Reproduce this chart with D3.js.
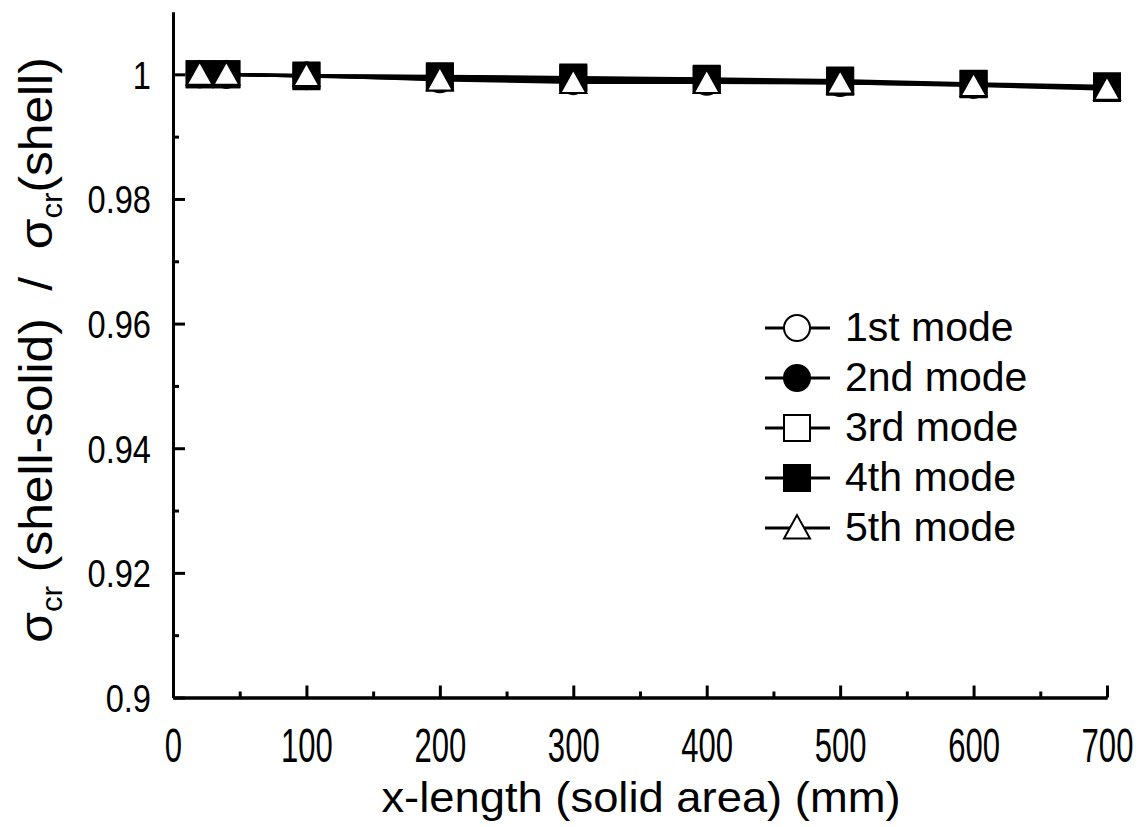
<!DOCTYPE html>
<html>
<head>
<meta charset="utf-8">
<script src="https://cdn.jsdelivr.net/npm/d3@7/dist/d3.min.js"></script>
<style>
  html, body { margin: 0; padding: 0; background: #fff; }
  svg { display: block; }
  text { font-family: "Liberation Sans", Arial, sans-serif; fill: #000; white-space: pre; }
</style>
</head>
<body>
<svg id="chart" width="1147" height="827"></svg>
<script>
// x-length of the solid area (mm)
const xLength = [20, 40, 100, 200, 300, 400, 500, 600, 700];

// buckling stress ratio, shell-solid model over shell model, per mode
const mode1 = [1.0000, 1.0000, 0.9997, 0.9992, 0.9989, 0.9988, 0.9986, 0.9983, 0.9978];
const mode2 = [1.0000, 0.9999, 0.9998, 0.9996, 0.9994, 0.9992, 0.9988, 0.9984, 0.9979];
const mode3 = [1.0000, 1.0000, 0.9997, 0.9995, 0.9993, 0.9991, 0.9988, 0.9984, 0.9978];
const mode4 = [1.0000, 1.0000, 0.9998, 0.9997, 0.9995, 0.9993, 0.9990, 0.9985, 0.9981];
const mode5 = [1.0000, 1.0000, 0.9998, 0.9991, 0.9987, 0.9987, 0.9986, 0.9982, 0.9976];

const seriesNames = ["1st mode", "2nd mode", "3rd mode", "4th mode", "5th mode"];
const seriesValues = [mode1, mode2, mode3, mode4, mode5];
const seriesSymbols = ["circle", "circle", "square", "square", "triangle"];
const seriesFills = ["#fff", "#000", "#fff", "#000", "#fff"];

const xTicks = [0, 100, 200, 300, 400, 500, 600, 700];
const xMinorTicks = [50, 150, 250, 350, 450, 550, 650];
const yTicks = [0.9, 0.92, 0.94, 0.96, 0.98, 1];
const yMinorTicks = [0.91, 0.93, 0.95, 0.97, 0.99];

const svg = d3.select("#chart");

const x = d3.scaleLinear().domain([0, 700]).range([173, 1107]);
const y = d3.scaleLinear().domain([0.9, 1.01]).range([697.5, 12]);

// symbol shapes, sized by their bounding box
function symbolPath(kind, s) {
  const h = s / 2;
  if (kind === "square") return `M${-h},${-h}H${h}V${h}H${-h}Z`;
  if (kind === "triangle") {
    const ht = s * 0.9;
    return `M0,${-ht * 0.55}L${h},${ht * 0.45}L${-h},${ht * 0.45}Z`;
  }
  return d3.arc()({innerRadius: 0, outerRadius: h, startAngle: 0, endAngle: 2 * Math.PI});
}

// axes: major ticks labelled, minor ticks shorter, all pointing inward
const yAxisMinor = d3.axisLeft(y).tickValues(yMinorTicks).tickSizeInner(-6).tickSizeOuter(0).tickFormat("");
const yAxis = d3.axisLeft(y).tickValues(yTicks).tickSizeInner(-12).tickSizeOuter(0)
  .tickFormat(d => (d === 1 ? "1" : d === 0.9 ? "0.9" : d3.format(".2f")(d)));

const xAxisMinor = d3.axisBottom(x).tickValues(xMinorTicks).tickSizeInner(-6).tickSizeOuter(0).tickFormat("");
const xAxis = d3.axisBottom(x).tickValues(xTicks).tickSizeInner(-12).tickSizeOuter(0).tickFormat(d3.format("d"));

const gy = svg.append("g").attr("transform", "translate(173,0)");
gy.append("g").call(yAxisMinor);
gy.append("g").call(yAxis);

const gx = svg.append("g").attr("transform", "translate(0,697.5)");
gx.append("g").call(xAxisMinor);
gx.append("g").call(xAxis);

svg.selectAll(".domain").attr("stroke", "#000").attr("stroke-width", 3);
svg.selectAll(".tick line").attr("stroke", "#000").attr("stroke-width", 3);

gy.selectAll(".tick text")
  .attr("x", null).attr("dy", null)
  .attr("font-size", 32)
  .attr("text-anchor", "end")
  .attr("transform", "translate(-22,14) scale(1.02,1.2)");

gx.selectAll(".tick text")
  .attr("y", null).attr("dy", null)
  .attr("font-size", 42)
  .attr("text-anchor", "middle")
  .attr("transform", "translate(0,64.5) scale(0.74,1.13)");

// axis titles
svg.append("text")
  .attr("font-size", 42)
  .attr("text-anchor", "middle")
  .attr("transform", "translate(641,812) scale(1.08,1.02)")
  .text("x-length (solid area) (mm)");

const yTitle = svg.append("text")
  .attr("font-size", 46)
  .attr("text-anchor", "middle")
  .attr("transform", "translate(52,350) rotate(-90) scale(1.08,1)");
yTitle.append("tspan").text("σ");
yTitle.append("tspan").attr("font-size", 29).attr("dy", 10).text("cr");
yTitle.append("tspan").attr("dy", -10).text(" (shell-solid)  /  σ");
yTitle.append("tspan").attr("font-size", 29).attr("dy", 10).text("cr");
yTitle.append("tspan").attr("dy", -10).text("(shell)");

// series lines and markers
const line = d3.line().x((d, i) => x(xLength[i])).y(d => y(d));
const markerSize = 26;

seriesValues.forEach((vals, k) => {
  const g = svg.append("g");
  g.append("path")
    .attr("d", line(vals))
    .attr("fill", "none")
    .attr("stroke", "#000")
    .attr("stroke-width", 3);
  g.selectAll("path.mk")
    .data(vals)
    .join("path")
    .attr("class", "mk")
    .attr("transform", (d, i) => `translate(${x(xLength[i])},${y(d)})`)
    .attr("d", symbolPath(seriesSymbols[k], markerSize))
    .attr("fill", seriesFills[k])
    .attr("stroke", "#000")
    .attr("stroke-width", 2);
});

// legend
const legend = svg.append("g").attr("transform", "translate(765,328)");
seriesNames.forEach((name, k) => {
  const row = legend.append("g").attr("transform", `translate(0,${k * 50})`);
  row.append("line").attr("x1", 0).attr("x2", 65).attr("y1", 0).attr("y2", 0)
    .attr("stroke", "#000").attr("stroke-width", 3);
  row.append("path")
    .attr("transform", "translate(32,0)")
    .attr("d", symbolPath(seriesSymbols[k], 26))
    .attr("fill", seriesFills[k])
    .attr("stroke", "#000")
    .attr("stroke-width", 2);
  row.append("text")
    .attr("x", 80).attr("y", 13)
    .attr("font-size", 41)
    .text(name);
});
</script>
</body>
</html>
